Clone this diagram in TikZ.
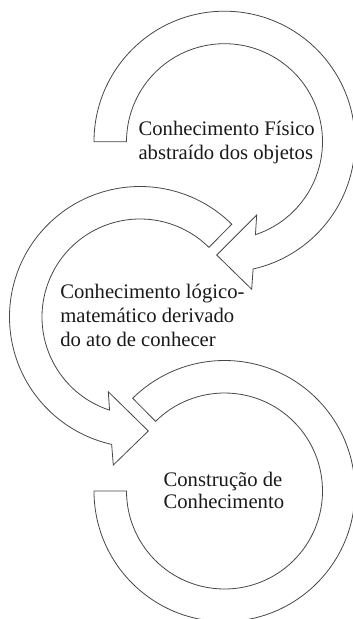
\documentclass[tikz,border=0pt]{standalone}
\usepackage{fontspec}
\setmainfont{Liberation Serif}
\usetikzlibrary{calc}
\tikzset{
  ring/.style={draw=black!72, fill=white, line width=0.6pt, line join=miter},
  txt/.style={inner sep=0pt, anchor=base west, font=\fontsize{15.5pt}{18pt}\selectfont, text=black!90}
}
\begin{document}
\begin{tikzpicture}[x=0.75pt,y=-0.75pt]
\useasboundingbox (0,0) rectangle (353,619);
\clip (0,0) rectangle (353,619);
% centres
\coordinate (c1) at (224.5,141.7);
\coordinate (c2) at (140,317);
\coordinate (c3) at (224.5,491);
% arrowhead points, ring 1
\coordinate (a1b1) at (256.7,215);
\coordinate (a1tip) at (216.7,255);
\coordinate (a1b2) at (251.7,289.3);
% arrowhead points, ring 2
\coordinate (a2b1) at (108.3,391.7);
\coordinate (a2tip) at (148.3,431);
\coordinate (a2b2) at (113.3,465);
% ring 1 (clockwise, arrow at bottom pointing left)
\draw[ring] ($(c1)+(180:130.5)$) arc[start angle=180, end angle=437.35, radius=130.5]
  -- (a1b2) -- (a1tip) -- (a1b1) -- ($(c1)+(71.6:98)$)
  arc[start angle=431.6, end angle=180, radius=98] -- cycle;
% ring 2 (counter-clockwise, arrow at bottom pointing right)
\draw[ring] ($(c2)+(-45.3:130.5)$) arc[start angle=-45.3, end angle=-257.45, radius=130.5]
  -- (a2b2) -- (a2tip) -- (a2b1) -- ($(c2)+(108.1:98)$)
  arc[start angle=-251.9, end angle=-45.3, radius=98] -- cycle;
% ring 3 (no arrowhead)
\draw[ring] ($(c3)+(180:130.5)$) arc[start angle=180, end angle=-134.7, radius=130.5]
  -- ($(c3)+(-134.7:98)$) arc[start angle=-134.7, end angle=180, radius=98] -- cycle;
% texts
\node[txt] (t1a) at (138.3,135) {Conhecimento Físico};
\node[txt] (t1b) at (138.3,159.3) {abstraído dos objetos};
\node[txt] (t2a) at (60,298.3) {Conhecimento lógico-};
\node[txt] (t2b) at (60,322.7) {matemático derivado};
\node[txt] (t2c) at (60,346.7) {do ato de conhecer};
\node[txt] (t3a) at (163.3,486.5) {Construção de};
\node[txt] (t3b) at (163.3,508.5) {Conhecimento};
\end{tikzpicture}
\end{document}
